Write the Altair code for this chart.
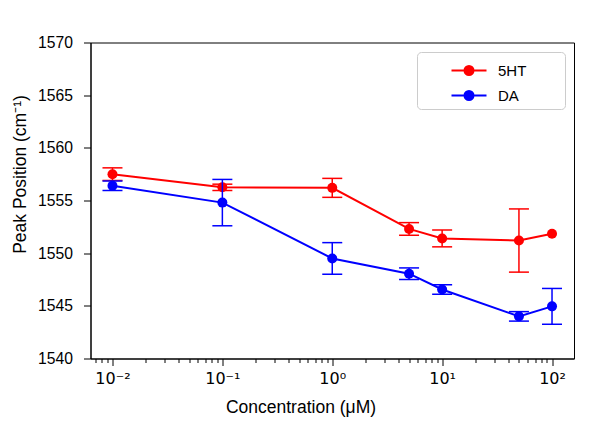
import altair as alt
import pandas as pd

# ---- data ----
conc = [0.01, 0.1, 1, 5, 10, 50, 100]
ht5 = [1557.5, 1556.25, 1556.2, 1552.3, 1551.4, 1551.2, 1551.85]
ht5_err = [0.6, 0.3, 0.9, 0.6, 0.8, 3.0, None]
da = [1556.4, 1554.8, 1549.5, 1548.05, 1546.55, 1544.0, 1544.95]
da_err = [0.45, 2.2, 1.5, 0.55, 0.45, 0.45, 1.7]
series_names = ["5HT", "DA"]
series_colors = ["#ff0000", "#0000ff"]
x_major = [0.01, 0.1, 1, 10, 100]
x_major_labels = ["10⁻²", "10⁻¹", "10⁰", "10¹", "10²"]
x_minor = [m * 10.0 ** e for e in range(-3, 2) for m in range(2, 10)]
y_ticks = [1540, 1545, 1550, 1555, 1560, 1565, 1570]

XMIN, XMAX = 10 ** -2.2, 10 ** 2.2
x_minor = [v for v in x_minor if XMIN <= v <= XMAX]

rows = []
for name, vals, errs in [(series_names[0], ht5, ht5_err), (series_names[1], da, da_err)]:
    for c, v, e in zip(conc, vals, errs):
        rows.append({
            "series": name, "conc": c, "value": v,
            "lo": (v - e) if e is not None else None,
            "hi": (v + e) if e is not None else None,
        })
df = pd.DataFrame(rows)

label_map = "{" + ",".join(f"'{v}':'{l}'" for v, l in zip(x_major, x_major_labels)) + "}"

xscale = alt.Scale(type="log", domain=[XMIN, XMAX], nice=False)
yscale = alt.Scale(domain=[1540, 1570], nice=False, zero=False)

x_none = alt.X("conc:Q", scale=xscale, axis=None)

major_axis = alt.Axis(
    orient="bottom", values=x_major, labelExpr=f"{label_map}[toString(datum.value)]",
    title="Concentration (μM)", titleX=210, titleY=54,
    tickSize=7, labelPadding=5, labelFont="DejaVu Sans", labelFontSize=16,
    titleFont="Liberation Sans", titleFontSize=17.5, titleFontWeight="normal",
    titleAlign="center", titleBaseline="alphabetic", grid=False, labelFlush=False,
    labelOverlap=False,
)
minor_axis = alt.Axis(
    orient="bottom", values=x_minor, labels=False, tickSize=4, domain=False,
    title=None, grid=False,
)
yaxis = alt.Axis(
    values=y_ticks, title="Peak Position (cm⁻¹)", format="d",
    tickSize=7, labelPadding=11, labelFont="Liberation Sans", labelFontSize=15.7,
    titleFont="Liberation Sans", titleFontSize=17.5, titleFontWeight="normal",
    titleX=-65.5, titleY=131.5, titleAngle=270, titleAlign="center",
    titleBaseline="alphabetic", grid=False,
)

# symbol: short line with a dot; the trailing move-to widens the legend frame
legend = alt.Legend(
    title=None, orient="none", legendX=326.5, legendY=9.5,
    symbolType="M-1.4,0H1.4M-0.36,0A0.36,0.36,0,1,0,0.36,0A0.36,0.36,0,1,0,-0.36,0ZM6.96,0",
    symbolSize=625, symbolStrokeWidth=2, symbolOffset=33.5, labelOffset=15.5,
    labelFont="Liberation Sans", labelFontSize=15, labelColor="black",
    padding=5, rowPadding=3, fillColor="rgba(255,255,255,0.8)",
    strokeColor="#cccccc", cornerRadius=4,
)
cscale = alt.Scale(domain=series_names, range=series_colors)
stroke_enc = alt.Stroke("series:N", scale=cscale, legend=legend)
fill_enc = alt.Fill("series:N", scale=cscale, legend=legend)

base = alt.Chart(df)
layers = []
for i, name in enumerate(series_names):
    b = base.transform_filter(alt.datum.series == name)
    eb = b.transform_filter("isValid(datum.lo)")
    rule = eb.mark_rule(strokeWidth=1.5).encode(
        x=x_none, y=alt.Y("lo:Q", scale=yscale, axis=yaxis), y2="hi:Q", stroke=stroke_enc)
    cap_lo = eb.mark_tick(orient="horizontal", size=20, thickness=1.5, opacity=1).encode(
        x=x_none, y=alt.Y("lo:Q", scale=yscale, axis=yaxis), fill=fill_enc)
    cap_hi = eb.mark_tick(orient="horizontal", size=20, thickness=1.5, opacity=1).encode(
        x=x_none, y=alt.Y("hi:Q", scale=yscale, axis=yaxis), fill=fill_enc)
    line = b.mark_line(strokeWidth=2).encode(
        x=alt.X("conc:Q", scale=xscale, axis=major_axis if i == 0 else None),
        y=alt.Y("value:Q", scale=yscale, axis=yaxis), stroke=stroke_enc)
    pts = b.mark_point(filled=True, size=100, opacity=1, shape="circle").encode(
        x=alt.X("conc:Q", scale=xscale, axis=minor_axis if i == 0 else None),
        y=alt.Y("value:Q", scale=yscale, axis=yaxis), fill=fill_enc)
    layers += [line, rule, cap_lo, cap_hi, pts]

chart = alt.layer(*layers).resolve_axis(x="independent").properties(
    width=483.5, height=316, autosize="none",
    padding={"left": 82.5, "top": 34.5, "right": 20, "bottom": 61},
).configure_view(stroke="black", strokeWidth=1).configure_axis(
    domainColor="black", tickColor="black", labelColor="black", titleColor="black",
    domainWidth=1, tickWidth=1,
)

chart.save("out.html", embed_options={"renderer": "svg", "actions": False})
